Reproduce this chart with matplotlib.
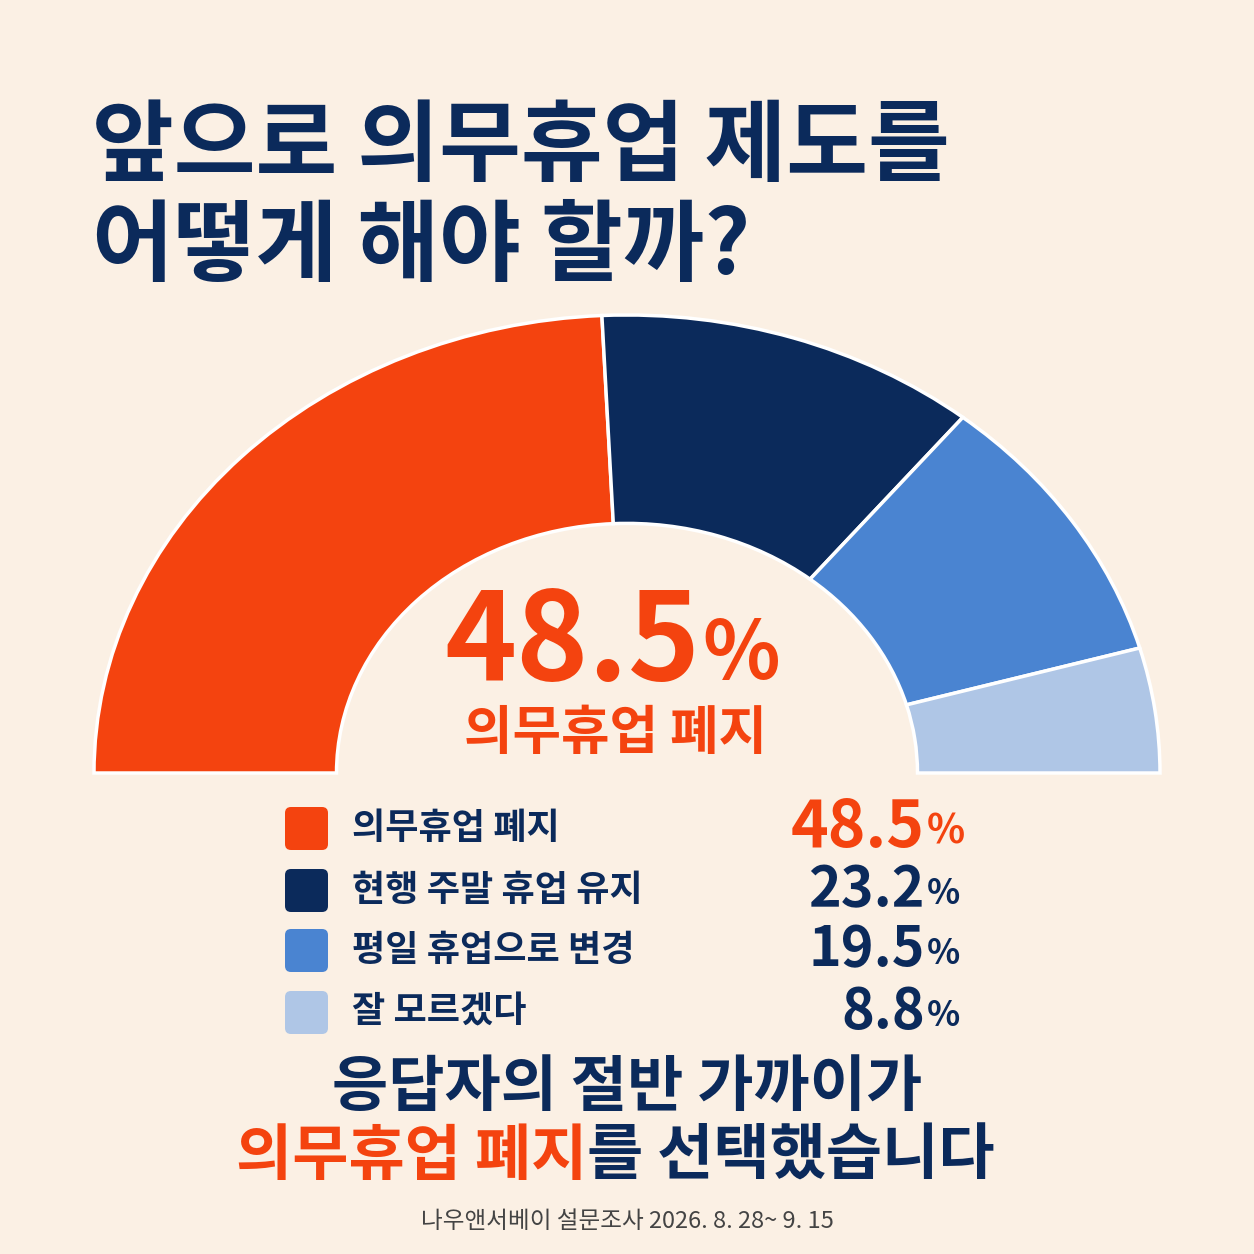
import matplotlib
matplotlib.use("Agg")
import matplotlib.pyplot as plt
from matplotlib.patches import Wedge, FancyBboxPatch
from matplotlib.transforms import Affine2D

plt.rcParams['font.family'] = ['Noto Sans CJK KR', 'DejaVu Sans']

categories = ['의무휴업 폐지', '현행 주말 휴업 유지', '평일 휴업으로 변경', '잘 모르겠다']
values = [48.5, 23.2, 19.5, 8.8]
colors = ['#F4430F', '#0B2A5B', '#4A84D1', '#AFC6E6']
title_lines = ['앞으로 의무휴업 제도를', '어떻게 해야 할까?']
source = '나우앤서베이 설문조사 2026. 8. 28~ 9. 15'

BG = '#FBF0E4'
NAVY = '#0B2A5B'
ORANGE = '#F4430F'

fig = plt.figure(figsize=(12.54, 12.54), dpi=100, facecolor=BG)
ax = fig.add_axes([0, 0, 1, 1])
ax.set_xlim(0, 1254)
ax.set_ylim(1254, 0)
ax.axis('off')
ax.set_facecolor(BG)

for i, t in enumerate(title_lines):
    ax.text(92, 148 + i * 100, t, fontsize=64, fontweight='black', color=NAVY,
            va='center', ha='left')

cx, cy, Rx, Ry = 627, 773, 533, 458
inner = 0.545
tr = Affine2D().scale(Rx, Ry).translate(cx, cy) + ax.transData
total = sum(values)
start = 180.0
for v, c in zip(values, colors):
    span = 180.0 * v / total
    w = Wedge((0, 0), 1.0, -start, -(start - span), width=1 - inner,
              facecolor=c, edgecolor='white', linewidth=2.5, transform=tr)
    ax.add_patch(w)
    start -= span

ax.text(700, 645, f'{values[0]}', fontsize=88, fontweight='black', color=ORANGE,
        ha='right', va='center')
ax.text(702, 655, '%', fontsize=58, fontweight='black', color=ORANGE,
        ha='left', va='center')
ax.text(615, 733, categories[0], fontsize=38, fontweight='black', color=ORANGE,
        ha='center', va='center')

ys = [828, 890, 950, 1012]
for i, (cat, v, c) in enumerate(zip(categories, values, colors)):
    ax.add_patch(FancyBboxPatch((285, ys[i] - 21), 43, 43,
                                boxstyle='round,pad=0,rounding_size=6',
                                facecolor=c, edgecolor='none'))
    ax.text(352, ys[i], cat, fontsize=26, fontweight='black', color=NAVY,
            ha='left', va='center')
    vc = ORANGE if i == 0 else NAVY
    fs = 46 if i == 0 else 40
    ax.text(925, ys[i], f'{v}', fontsize=fs, fontweight='black', color=vc,
            ha='right', va='center')
    ax.text(927, ys[i] + 4, '%', fontsize=fs * 0.62, fontweight='black', color=vc,
            ha='left', va='center')

ax.text(627, 1088, '응답자의 절반 가까이가', fontsize=44, fontweight='black',
        color=NAVY, ha='center', va='center')
t1 = ax.text(236, 1157, '의무휴업 폐지', fontsize=44, fontweight='black',
             color=ORANGE, ha='left', va='center')
fig.canvas.draw()
bb = t1.get_window_extent().transformed(ax.transData.inverted())
ax.text(bb.x1, 1157, '를 선택했습니다', fontsize=44, fontweight='black',
        color=NAVY, ha='left', va='center')

ax.text(627, 1221, source, fontsize=17, color='#444444', ha='center', va='center')

fig.savefig('out.png', dpi=100, facecolor=BG)
